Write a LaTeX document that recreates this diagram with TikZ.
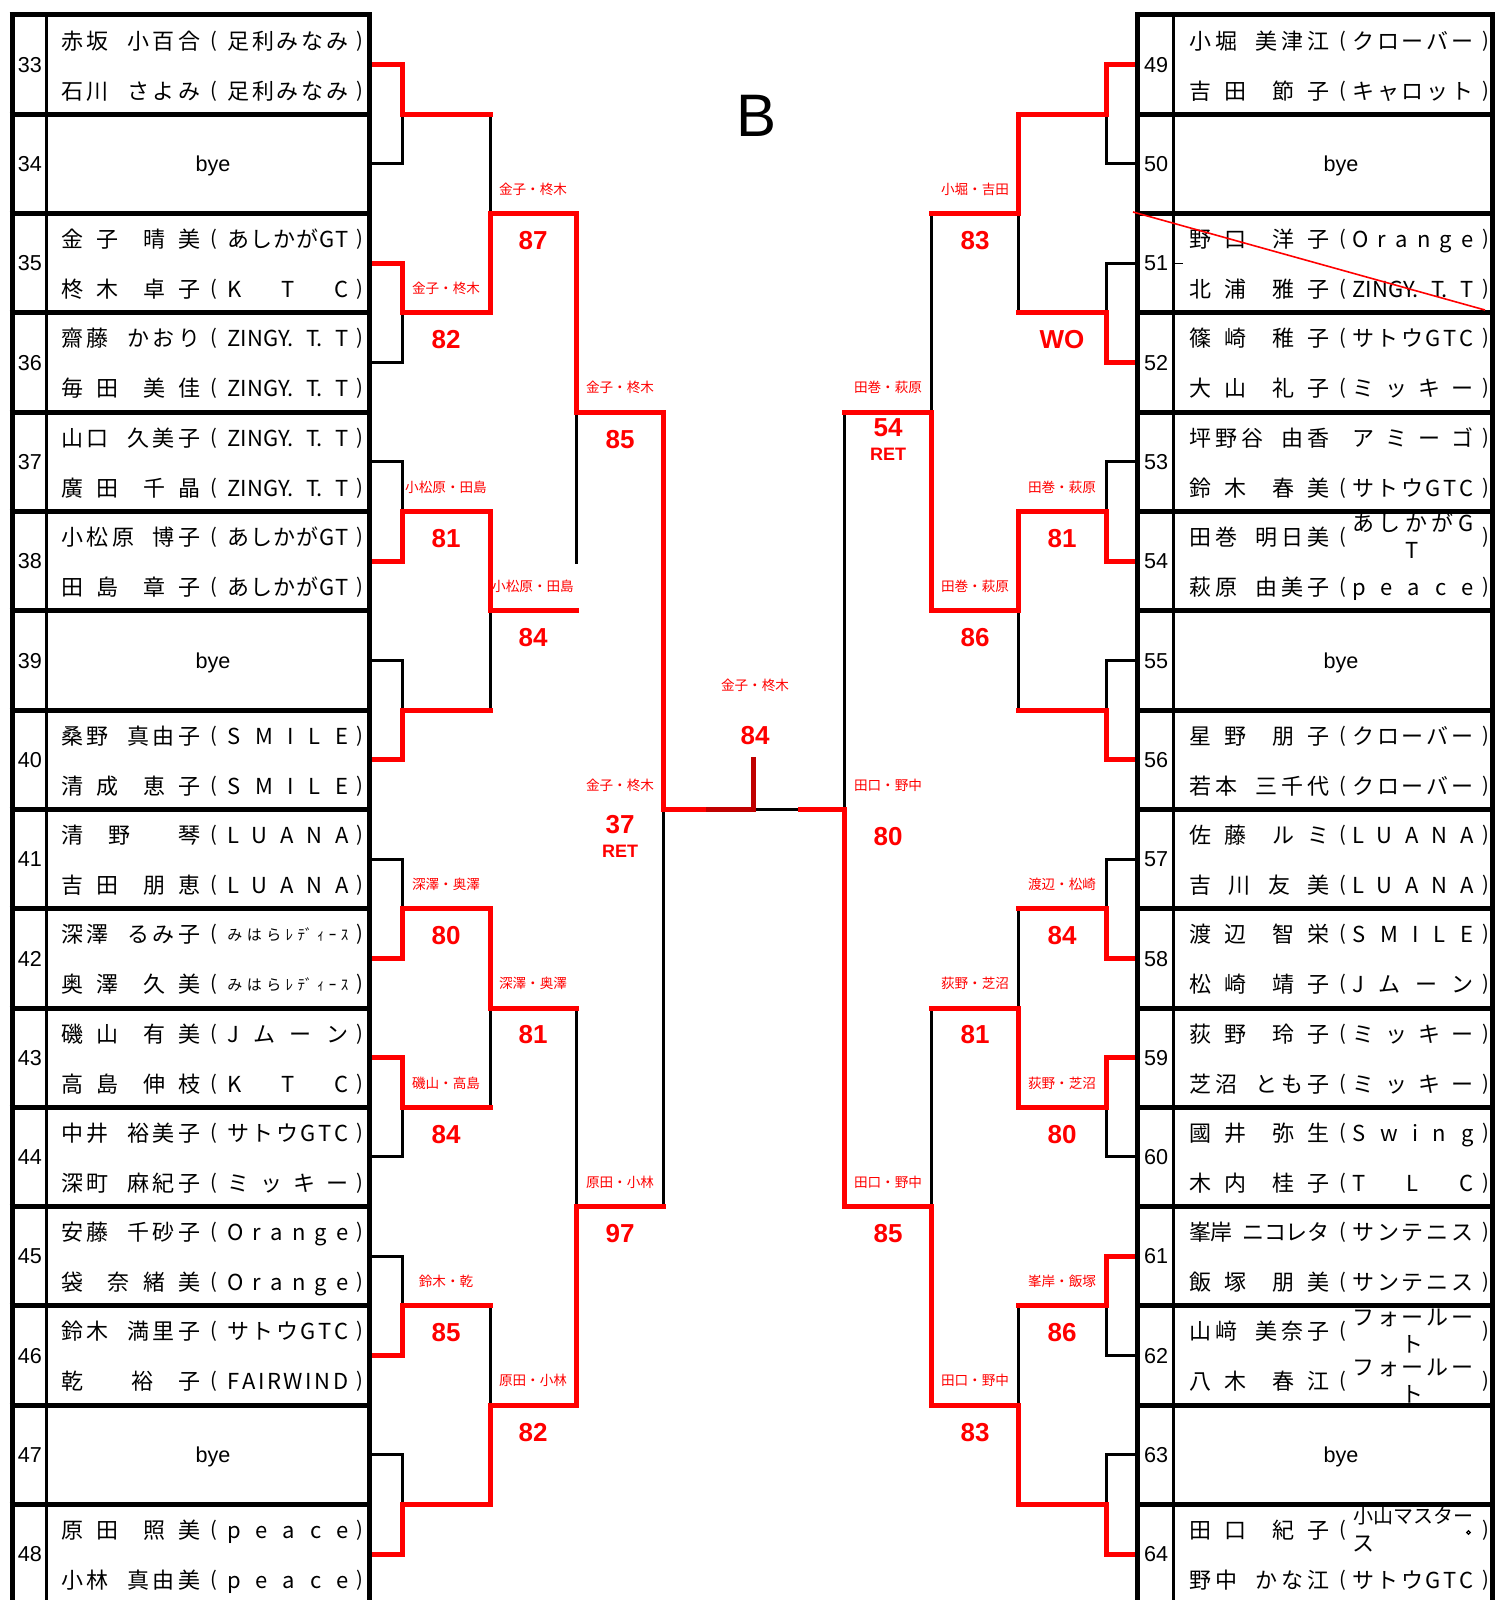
\documentclass[tikz,border=0pt]{standalone}
\usepackage{fontspec}
\newfontfamily\jp{Noto Sans CJK JP}
\newfontfamily\ar{Liberation Sans}
\definecolor{rd}{HTML}{FF0000}
\definecolor{drd}{HTML}{C00000}
\newcommand\hsp{\hspace{0.5em}}
\newcommand\fsp{\hspace{1em}}
\ExplSyntaxOn
\seq_new:N \l_dist_seq
\NewDocumentCommand\dist{mm}
 {
  \seq_clear:N \l_dist_seq
  \tl_map_inline:nn {#2} { \seq_put_right:Nn \l_dist_seq {##1} }
  \makebox[#1][s]{ \seq_use:Nn \l_dist_seq { \hspace{0pt~plus~1fill~minus~1fill} } }
 }
\ExplSyntaxOff
\tikzset{
 nm/.style={inner sep=0pt, font=\jp\fontsize{11}{11}\selectfont, text height=8.36pt, text depth=0pt},
 nmw/.style={inner sep=0pt, font=\jp\fontsize{10}{10}\selectfont, text height=7.6pt, text depth=0pt},
 nms/.style={inner sep=0pt, font=\jp\fontsize{7.5}{7.5}\selectfont, text height=5.7pt, text depth=0pt},
 par/.style={inner sep=0pt, font=\jp\fontsize{10}{10}\selectfont, text height=6.4pt, text depth=0pt},
 numtxt/.style={inner sep=0pt, font=\ar\fontsize{10.8}{10.8}\selectfont, text height=7.73pt, text depth=0pt},
 lbl/.style={inner sep=0pt, text=rd, font=\jp\fontsize{6.8}{6.8}\selectfont, text height=5.2pt, text depth=0pt},
 score/.style={inner sep=0pt, text=rd, font=\ar\bfseries\fontsize{13}{13}\selectfont, text height=9.3pt, text depth=0pt},
 ret/.style={inner sep=0pt, text=rd, font=\ar\bfseries\fontsize{9}{9}\selectfont, text height=6.45pt, text depth=0pt},
 win/.style={draw=rd, line width=2.5pt, line cap=rect, line join=miter},
 lose/.style={draw=black, line width=1.5pt, line cap=rect, line join=miter},
 tbl/.style={draw=black, line width=2.5pt},
 tbln/.style={draw=black, line width=1.75pt},
}
% rows
\NewDocumentCommand\rowL{O{nm}mmmm}{%
  \node[nm,anchor=west] (#2n) at (61,{#3}) {\dist{69.5pt}{#4}};
  \node[par] (#2o) at (214,{#3}) {(};
  \node[#1,anchor=west] (#2c) at (227,{#3}) {\dist{60.5pt}{#5}};
  \node[par] (#2e) at (360,{#3}) {)};}
\NewDocumentCommand\rowR{O{nm}mmmm}{%
  \node[nm,anchor=west] (#2n) at (1189,{#3}) {\dist{70pt}{#4}};
  \node[par] (#2o) at (1342.5,{#3}) {(};
  \node[#1,anchor=west] (#2c) at (1352,{#3}) {\dist{60.5pt}{#5}};
  \node[par] (#2e) at (1486,{#3}) {)};}
\newcommand\entL[6]{%
  \node[numtxt] (nL#2) at (30,{64.65+99.3*#1}) {#2};
  \rowL{L#2a}{64.65+99.3*#1-24}{#3}{#4}
  \rowL{L#2b}{64.65+99.3*#1+26}{#5}{#6}}
\newcommand\entR[6]{%
  \node[numtxt] (nR#2) at (1156,{64.65+99.3*#1}) {#2};
  \rowR{R#2a}{64.65+99.3*#1-24}{#3}{#4}
  \rowR{R#2b}{64.65+99.3*#1+26}{#5}{#6}}
\newcommand\byeL[2]{%
  \node[numtxt] (nL#2) at (30,{64.65+99.3*#1}) {#2};
  \node[numtxt] (byL#2) at (213,{64.65+99.3*#1}) {bye};}
\newcommand\byeR[2]{%
  \node[numtxt] (nR#2) at (1156,{64.65+99.3*#1}) {#2};
  \node[numtxt] (byR#2) at (1341,{64.65+99.3*#1}) {bye};}
\newcommand\wrapR[5]{%
  \node[nm,anchor=west] (#1n) at (1189,{#2}) {\dist{70pt}{#3}};
  \node[par] (#1o) at (1342.5,{#2}) {(};
  \node[nm,anchor=west] (#1c) at (1352,{#2-14}) {\dist{60.5pt}{#4}};
  \node[nm] (#1d) at (1412.5,{#2+13}) {#5};
  \node[par] (#1e) at (1486,{#2}) {)};}
\newcommand\lab[5]{%
  \node[lbl] (l#1) at (#2,{#3-24.5}) {#4};
  \node[score] (s#1) at (#2,{#3+26.5}) {#5};}
\newcommand\labret[5]{%
  \node[lbl] (l#1) at (#2,{#3-24.5}) {#4};
  \node[score] (s#1) at (#2,{#3+14.5}) {#5};
  \node[ret] (r#1) at (#2,{#3+41.5}) {RET};}
\begin{document}
\begin{tikzpicture}[x=0.5pt,y=-0.5pt]
\useasboundingbox (0,0) rectangle (1494,1600);
\fill[white] (0,0) rectangle (1494,1600);
% ---------- coordinates ----------
\foreach \i in {0,...,15}{
  \coordinate (eL\i) at (370,{64.65+99.3*\i});
  \coordinate (eR\i) at (1137,{64.65+99.3*\i});}
\foreach \k in {0,...,7}{
  \coordinate (aL\k) at (402,{114.3+198.6*\k});
  \coordinate (pAL\k) at (490,{114.3+198.6*\k});
  \coordinate (aR\k) at (1106,{114.3+198.6*\k});
  \coordinate (pAR\k) at (1018,{114.3+198.6*\k});}
\foreach \m in {0,...,3}{
  \coordinate (bL\m) at (490,{213.6+397.2*\m});
  \coordinate (pBL\m) at (576,{213.6+397.2*\m});
  \coordinate (bR\m) at (1018,{213.6+397.2*\m});
  \coordinate (pBR\m) at (931,{213.6+397.2*\m});}
\foreach \j in {0,1}{
  \coordinate (cL\j) at (576,{412.2+794.4*\j});
  \coordinate (pCL\j) at (663,{412.2+794.4*\j});
  \coordinate (cR\j) at (931,{412.2+794.4*\j});
  \coordinate (pCR\j) at (844.5,{412.2+794.4*\j});}
\coordinate (dL) at (663,809.4);
\coordinate (dR) at (844.5,809.4);
\coordinate (fL) at (708,809.4);
\coordinate (fc) at (753.5,809.4);
\coordinate (ftop) at (753.5,759);
\coordinate (fR) at (800,809.4);
\coordinate (gL) at (576,562);
% ---------- losers (black) ----------
\draw[lose] (eL1) -| (aL0);  \draw[lose] (eL3) -| (aL1);
\draw[lose] (eL4) -| (aL2);  \draw[lose] (eL6) -| (aL3);
\draw[lose] (eL8) -| (aL4);  \draw[lose] (eL11) -| (aL5);
\draw[lose] (eL12) -| (aL6); \draw[lose] (eL14) -| (aL7);
\draw[lose] (pAL0) -- (bL0); \draw[lose] (pAL3) -- (bL1);
\draw[lose] (pAL5) -- (bL2); \draw[lose] (pAL6) -- (bL3);
\draw[lose] (gL) -- (cL0);   \draw[lose] (pBL2) -- (cL1);
\draw[lose] (pCL1) -- (dL);
\draw[lose] (eR1) -| (aR0);  \draw[lose] (eR2) -| (aR1);
\draw[lose] (eR4) -| (aR2);  \draw[lose] (eR6) -| (aR3);
\draw[lose] (eR8) -| (aR4);  \draw[lose] (eR11) -| (aR5);
\draw[lose] (eR13) -| (aR6); \draw[lose] (eR14) -| (aR7);
\draw[lose] (pAR1) -- (bR0); \draw[lose] (pAR3) -- (bR1);
\draw[lose] (pAR4) -- (bR2); \draw[lose] (pAR6) -- (bR3);
\draw[lose] (pBR0) -- (cR0); \draw[lose] (pBR2) -- (cR1);
\draw[lose] (pCR0) -- (dR);
\draw[lose] (fc) -- (fR);
% ---------- winners (red) ----------
\draw[win] (eL0) -| (aL0) -- (pAL0);
\draw[win] (eL2) -| (aL1) -- (pAL1);
\draw[win] (eL5) -| (aL2) -- (pAL2);
\draw[win] (eL7) -| (aL3) -- (pAL3);
\draw[win] (eL9) -| (aL4) -- (pAL4);
\draw[win] (eL10) -| (aL5) -- (pAL5);
\draw[win] (eL13) -| (aL6) -- (pAL6);
\draw[win] (eL15) -| (aL7) -- (pAL7);
\draw[win] (pAL1) -- (bL0) -- (pBL0);
\draw[win] (pAL2) -- (bL1) -- (pBL1);
\draw[win] (pAL4) -- (bL2) -- (pBL2);
\draw[win] (pAL7) -- (bL3) -- (pBL3);
\draw[win] (pBL0) -- (cL0) -- (pCL0);
\draw[win] (pBL3) -- (cL1) -- (pCL1);
\draw[win] (pCL0) -- (dL) -- (fL);
\draw[win] (eR0) -| (aR0) -- (pAR0);
\draw[win] (eR3) -| (aR1) -- (pAR1);
\draw[win] (eR5) -| (aR2) -- (pAR2);
\draw[win] (eR7) -| (aR3) -- (pAR3);
\draw[win] (eR9) -| (aR4) -- (pAR4);
\draw[win] (eR10) -| (aR5) -- (pAR5);
\draw[win] (eR12) -| (aR6) -- (pAR6);
\draw[win] (eR15) -| (aR7) -- (pAR7);
\draw[win] (pAR0) -- (bR0) -- (pBR0);
\draw[win] (pAR2) -- (bR1) -- (pBR1);
\draw[win] (pAR5) -- (bR2) -- (pBR2);
\draw[win] (pAR7) -- (bR3) -- (pBR3);
\draw[win] (pBR1) -- (cR0) -- (pCR0);
\draw[win] (pBR3) -- (cR1) -- (pCR1);
\draw[win] (pCR1) -- (dR) -- (fR);
\draw[win,draw=drd] (fL) -- (fc) -- (ftop);
% ---------- tables ----------
\draw[tbl] (12,12.5) -- (12,1600);
\draw[tbln] (46.5,15) -- (46.5,1600);
\draw[tbl] (369.5,12.5) -- (369.5,1600);
\draw[tbl] (1137.5,12.5) -- (1137.5,1600);
\draw[tbln] (1173.3,15) -- (1173.3,1600);
\draw[tbl] (1492,12.5) -- (1492,1600);
\foreach \i in {0,...,15}{
  \draw[tbl] (9.5,{15+99.3*\i}) -- (372,{15+99.3*\i});
  \draw[tbl] (1135,{15+99.3*\i}) -- (1494,{15+99.3*\i});}
% ---------- left entries ----------
\entL{0}{33}{赤坂\hsp 小百合}{足利みなみ}{石川\hsp さよみ}{足利みなみ}
\byeL{1}{34}
\entL{2}{35}{金\hsp 子\hsp\hsp 晴\hsp 美}{あしかがGT}{柊\hsp 木\hsp\hsp 卓\hsp 子}{KTC}
\entL{3}{36}{齋藤\hsp かおり}{{ZINGY.}{T.}{T}}{毎\hsp 田\hsp\hsp 美\hsp 佳}{{ZINGY.}{T.}{T}}
\entL{4}{37}{山口\hsp 久美子}{{ZINGY.}{T.}{T}}{廣\hsp 田\hsp\hsp 千\hsp 晶}{{ZINGY.}{T.}{T}}
\entL{5}{38}{小松原\hsp 博子}{あしかがGT}{田\hsp 島\hsp\hsp 章\hsp 子}{あしかがGT}
\byeL{6}{39}
\entL{7}{40}{桑野\hsp 真由子}{SMILE}{清\hsp 成\hsp\hsp 恵\hsp 子}{SMILE}
\entL{8}{41}{清\fsp 野\fsp\fsp 琴}{LUANA}{吉\hsp 田\hsp\hsp 朋\hsp 恵}{LUANA}
\node[numtxt] (nL42) at (30,{64.65+99.3*9}) {42};
\rowL[nms]{L42a}{64.65+99.3*9-24}{深澤\hsp るみ子}{みはら{ﾚ}{ﾃﾞ}{ｨ}{ｰ}{ｽ}}
\rowL[nms]{L42b}{64.65+99.3*9+26}{奥\hsp 澤\hsp\hsp 久\hsp 美}{みはら{ﾚ}{ﾃﾞ}{ｨ}{ｰ}{ｽ}}
\entL{10}{43}{磯\hsp 山\hsp\hsp 有\hsp 美}{Jムーン}{高\hsp 島\hsp\hsp 伸\hsp 枝}{KTC}
\entL{11}{44}{中井\hsp 裕美子}{サトウGTC}{深町\hsp 麻紀子}{ミッキー}
\entL{12}{45}{安藤\hsp 千砂子}{Orange}{袋\fsp 奈\hsp 緒\hsp 美}{Orange}
\entL{13}{46}{鈴木\hsp 満里子}{サトウGTC}{乾\fsp\fsp 裕\fsp 子}{FAIRWIND}
\byeL{14}{47}
\entL{15}{48}{原\hsp 田\hsp\hsp 照\hsp 美}{peace}{小林\hsp 真由美}{peace}
% ---------- right entries ----------
\entR{0}{49}{小堀\hsp 美津江}{クローバー}{吉\hsp 田\hsp\hsp 節\hsp 子}{キャロット}
\byeR{1}{50}
\entR{2}{51}{野\hsp 口\hsp\hsp 洋\hsp 子}{Orange}{北\hsp 浦\hsp\hsp 雅\hsp 子}{{ZINGY.}{T.}{T}}
\entR{3}{52}{篠\hsp 崎\hsp\hsp 稚\hsp 子}{サトウGTC}{大\hsp 山\hsp\hsp 礼\hsp 子}{ミッキー}
\node[numtxt] (nR53) at (1156,{64.65+99.3*4}) {53};
\node[nm,anchor=west] (R53an) at (1189,{64.65+99.3*4-24}) {\dist{70pt}{坪野谷\hsp 由香}};
\node[nm,anchor=west] (R53ac) at (1352,{64.65+99.3*4-24}) {\dist{60.5pt}{アミーゴ}};
\node[par] (R53ae) at (1486,{64.65+99.3*4-24}) {)};
\rowR{R53b}{64.65+99.3*4+26}{鈴\hsp 木\hsp\hsp 春\hsp 美}{サトウGTC}
\node[numtxt] (nR54) at (1156,{64.65+99.3*5}) {54};
\wrapR{R54a}{64.65+99.3*5-24}{田巻\hsp 明日美}{あしかがG}{T}
\rowR{R54b}{64.65+99.3*5+26}{萩原\hsp 由美子}{peace}
\byeR{6}{55}
\entR{7}{56}{星\hsp 野\hsp\hsp 朋\hsp 子}{クローバー}{若本\hsp 三千代}{クローバー}
\entR{8}{57}{佐\hsp 藤\hsp\hsp ル\hsp ミ}{LUANA}{吉川友美}{LUANA}
\entR{9}{58}{渡\hsp 辺\hsp\hsp 智\hsp 栄}{SMILE}{松\hsp 崎\hsp\hsp 靖\hsp 子}{Jムーン}
\entR{10}{59}{荻\hsp 野\hsp\hsp 玲\hsp 子}{ミッキー}{芝沼\hsp とも子}{ミッキー}
\entR{11}{60}{國\hsp 井\hsp\hsp 弥\hsp 生}{Swing}{木\hsp 内\hsp\hsp 桂\hsp 子}{TLC}
\entR{12}{61}{峯岸\hsp ニコレタ}{サンテニス}{飯\hsp 塚\hsp\hsp 朋\hsp 美}{サンテニス}
\node[numtxt] (nR62) at (1156,{64.65+99.3*13}) {62};
\wrapR{R62a}{64.65+99.3*13-24}{山﨑\hsp 美奈子}{フォールー}{ト}
\wrapR{R62b}{64.65+99.3*13+26}{八\hsp 木\hsp\hsp 春\hsp 江}{フォールー}{ト}
\byeR{14}{63}
\node[numtxt] (nR64) at (1156,{64.65+99.3*15}) {64};
\node[nm,anchor=west] (R64an) at (1189,1530.15) {\dist{70pt}{田\hsp 口\hsp\hsp 紀\hsp 子}};
\node[par] (R64ao) at (1342.5,1530.15) {(};
\node[nmw,anchor=west] (R64ac) at (1353,1516.15) {\dist{60pt}{小山マスター}};
\node[nm,anchor=west] (R64ad) at (1352,1543.15) {ス};
\draw[line width=0.6pt] (1468.5,1532.5) circle (1.7);
\node[par] (R64ae) at (1486,1530.15) {)};
\rowR{R64b}{64.65+99.3*15+26}{野中\hsp かな江}{サトウGTC}
\draw[line width=0.75pt] (1175,263.25) -- (1183,263.25);
% ---------- labels & scores ----------
\lab{LA1}{446}{312.9}{金子・柊木}{82}
\lab{LA2}{446}{511.5}{小松原・田島}{81}
\lab{LA4}{446}{908.7}{深澤・奥澤}{80}
\lab{LA5}{446}{1107.3}{磯山・高島}{84}
\lab{LA6}{446}{1305.9}{鈴木・乾}{85}
\lab{LB0}{533}{213.6}{金子・柊木}{87}
\lab{LB1}{533}{610.8}{小松原・田島}{84}
\lab{LB2}{533}{1008}{深澤・奥澤}{81}
\lab{LB3}{533}{1405.2}{原田・小林}{82}
\lab{LC0}{620}{412.2}{金子・柊木}{85}
\lab{LC1}{620}{1206.6}{原田・小林}{97}
\labret{LD}{620}{809.4}{金子・柊木}{37}
\node[lbl] (lF) at (755,685) {金子・柊木};
\node[score] (sF) at (755,735) {84};
\node[score] (sRA1) at (1062,339.4) {WO};
\lab{RA2}{1062}{511.5}{田巻・萩原}{81}
\lab{RA4}{1062}{908.7}{渡辺・松崎}{84}
\lab{RA5}{1062}{1107.3}{荻野・芝沼}{80}
\lab{RA6}{1062}{1305.9}{峯岸・飯塚}{86}
\lab{RB0}{975}{213.6}{小堀・吉田}{83}
\lab{RB1}{975}{610.8}{田巻・萩原}{86}
\lab{RB2}{975}{1008}{荻野・芝沼}{81}
\lab{RB3}{975}{1405.2}{田口・野中}{83}
\labret{RC0}{888}{412.2}{田巻・萩原}{54}
\lab{RC1}{888}{1206.6}{田口・野中}{85}
\lab{RD}{888}{809.4}{田口・野中}{80}
\node[inner sep=0pt, font=\ar\fontsize{30}{30}\selectfont, text height=21.5pt, text depth=0pt] (titleB) at (756,115) {B};
% strike line
\coordinate (slashA) at (1133,212);
\coordinate (slashB) at (1485,310);
\draw[rd, line width=0.8pt] (slashA) -- (slashB);
\end{tikzpicture}
\end{document}
